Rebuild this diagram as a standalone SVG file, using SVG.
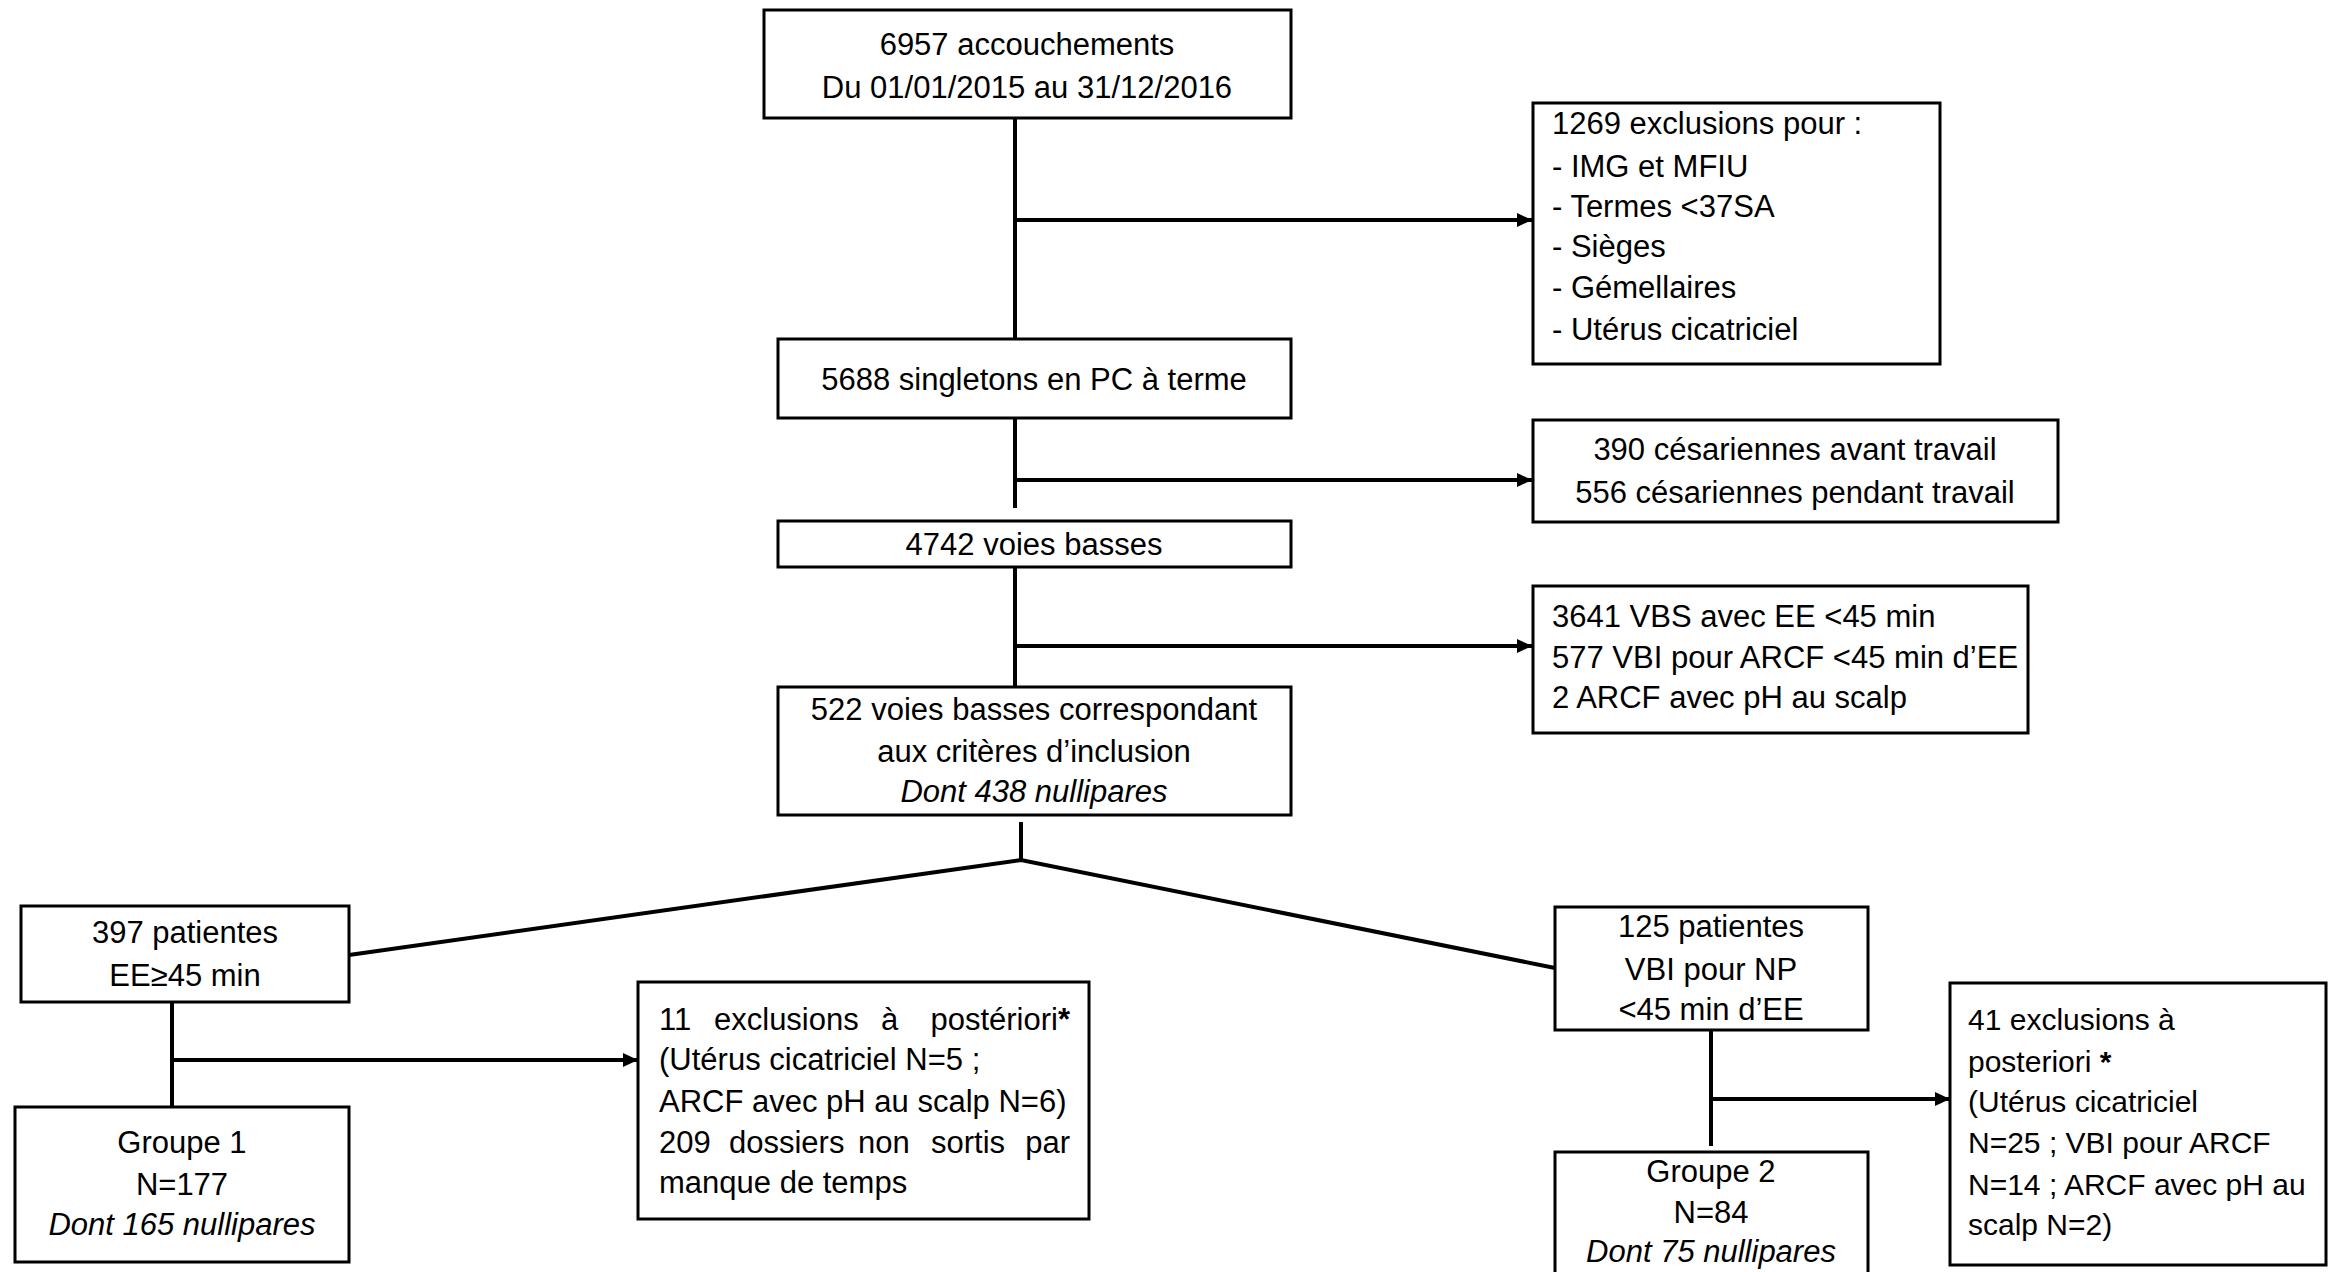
<svg xmlns="http://www.w3.org/2000/svg" width="2328" height="1272" viewBox="0 0 2328 1272">
<style>
text{font-family:"Liberation Sans",Arial,sans-serif;font-size:31px;fill:#000}
.c{text-anchor:middle}
.e{text-anchor:end}
.i{font-style:italic}
.b{font-weight:bold}
rect{fill:#fff;stroke:#000;stroke-width:3}
.ln{stroke:#000;stroke-width:4;fill:none}
</style>
<defs>
<marker id="ah" markerUnits="userSpaceOnUse" markerWidth="16" markerHeight="15" refX="15" refY="7" orient="auto">
<path d="M0,0 L15,7 L0,14 z" fill="#000"/>
</marker>
</defs>
<rect x="0" y="0" width="2328" height="1272" style="stroke:none"/>
<g id="connectors">
<line class="ln" x1="1015" y1="118" x2="1015" y2="339"/>
<line class="ln" x1="1015" y1="220" x2="1532" y2="220" marker-end="url(#ah)"/>
<line class="ln" x1="1015" y1="418" x2="1015" y2="508"/>
<line class="ln" x1="1015" y1="480" x2="1532" y2="480" marker-end="url(#ah)"/>
<line class="ln" x1="1015" y1="567" x2="1015" y2="687"/>
<line class="ln" x1="1015" y1="646" x2="1532" y2="646" marker-end="url(#ah)"/>
<line class="ln" x1="1021" y1="822" x2="1021" y2="860"/>
<polyline class="ln" points="349,955 1021,860 1555,968"/>
<line class="ln" x1="172" y1="1002" x2="172" y2="1107"/>
<line class="ln" x1="172" y1="1060" x2="638" y2="1060" marker-end="url(#ah)"/>
<line class="ln" x1="1711" y1="1030" x2="1711" y2="1146"/>
<line class="ln" x1="1711" y1="1099" x2="1950" y2="1099" marker-end="url(#ah)"/>
</g>
<g id="n1">
<rect x="764" y="10" width="527" height="108"/>
<text class="c" x="1027" y="55">6957 accouchements</text>
<text class="c" x="1027" y="98">Du 01/01/2015 au 31/12/2016</text>
</g>
<g id="n_excl1">
<rect x="1533" y="103" width="407" height="261"/>
<text x="1552" y="134">1269 exclusions pour :</text>
<text x="1552" y="177">- IMG et MFIU</text>
<text x="1552" y="217">- Termes &lt;37SA</text>
<text x="1552" y="257">- Sièges</text>
<text x="1552" y="298">- Gémellaires</text>
<text x="1552" y="340">- Utérus cicatriciel</text>
</g>
<g id="n2">
<rect x="778" y="339" width="513" height="79"/>
<text class="c" x="1034" y="390">5688 singletons en PC à terme</text>
</g>
<g id="n_cesar">
<rect x="1533" y="420" width="525" height="102"/>
<text class="c" x="1795" y="460">390 césariennes avant travail</text>
<text class="c" x="1795" y="503">556 césariennes pendant travail</text>
</g>
<g id="n3">
<rect x="778" y="521" width="513" height="46"/>
<text class="c" x="1034" y="555">4742 voies basses</text>
</g>
<g id="n_vbs">
<rect x="1533" y="586" width="495" height="147"/>
<text x="1552" y="627">3641 VBS avec EE &lt;45 min</text>
<text x="1552" y="668">577 VBI pour ARCF &lt;45 min d’EE</text>
<text x="1552" y="708">2 ARCF avec pH au scalp</text>
</g>
<g id="n4">
<rect x="778" y="687" width="513" height="128"/>
<text class="c" x="1034" y="720">522 voies basses correspondant</text>
<text class="c" x="1034" y="762">aux critères d’inclusion</text>
<text class="c i" x="1034" y="802">Dont 438 nullipares</text>
</g>
<g id="n_397">
<rect x="21" y="906" width="328" height="96"/>
<text class="c" x="185" y="943">397 patientes</text>
<text class="c" x="185" y="986">EE≥45 min</text>
</g>
<g id="n_excl11">
<rect x="638" y="982" width="451" height="237"/>
<text x="659" y="1030">11</text>
<text x="714" y="1030">exclusions</text>
<text x="881" y="1030">à</text>
<text class="e" x="1070" y="1030">postériori<tspan class="b">*</tspan></text>
<text x="659" y="1070">(Utérus cicatriciel N=5 ;</text>
<text x="659" y="1112">ARCF avec pH au scalp N=6)</text>
<text x="659" y="1153">209</text>
<text x="729" y="1153">dossiers</text>
<text x="858" y="1153">non</text>
<text x="931" y="1153">sortis</text>
<text class="e" x="1070" y="1153">par</text>
<text x="659" y="1193">manque de temps</text>
</g>
<g id="n_g1">
<rect x="15" y="1107" width="334" height="155"/>
<text class="c" x="182" y="1153">Groupe 1</text>
<text class="c" x="182" y="1195">N=177</text>
<text class="c i" x="182" y="1235">Dont 165 nullipares</text>
</g>
<g id="n_125">
<rect x="1555" y="907" width="313" height="123"/>
<text class="c" x="1711" y="937">125 patientes</text>
<text class="c" x="1711" y="980">VBI pour NP</text>
<text class="c" x="1711" y="1020">&lt;45 min d’EE</text>
</g>
<g id="n_excl41">
<rect x="1950" y="983" width="376" height="282"/>
<text x="1968" y="1030" style="font-size:30px">41 exclusions à</text>
<text x="1968" y="1072" style="font-size:30px">posteriori <tspan class="b">*</tspan></text>
<text x="1968" y="1112" style="font-size:30px">(Utérus cicatriciel</text>
<text x="1968" y="1153" style="font-size:30px">N=25 ; VBI pour ARCF</text>
<text x="1968" y="1195" style="font-size:30px">N=14 ; ARCF avec pH au</text>
<text x="1968" y="1235" style="font-size:30px">scalp N=2)</text>
</g>
<g id="n_g2">
<rect x="1555" y="1152" width="313" height="125"/>
<text class="c" x="1711" y="1182">Groupe 2</text>
<text class="c" x="1711" y="1223">N=84</text>
<text class="c i" x="1711" y="1262">Dont 75 nullipares</text>
</g>
</svg>
